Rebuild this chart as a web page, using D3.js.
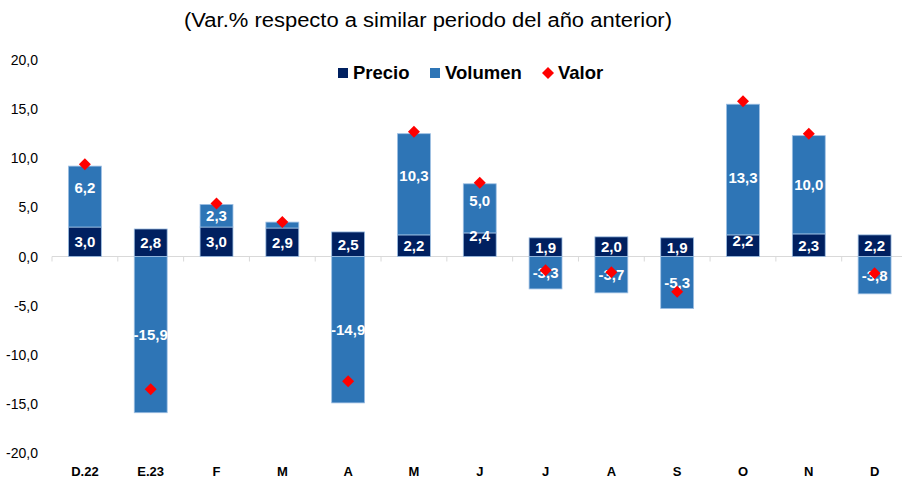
<!DOCTYPE html>
<html>
<head>
<meta charset="utf-8">
<script src="https://cdn.jsdelivr.net/npm/d3@7"></script>
<style>
  body { margin: 0; background: #fff; }
  svg { display: block; font-family: "Liberation Sans", Arial, sans-serif; }
</style>
</head>
<body>
<div id="chart"></div>
<script>
// data
var categories = ["D.22", "E.23", "F", "M", "A", "M", "J", "J", "A", "S", "O", "N", "D"];
var precio  = [3.0, 2.8, 3.0, 2.9, 2.5, 2.2, 2.4, 1.9, 2.0, 1.9, 2.2, 2.3, 2.2];
var volumen = [6.2, -15.9, 2.3, 0.6, -14.9, 10.3, 5.0, -3.3, -3.7, -5.3, 13.3, 10.0, -3.8];
var valor   = [9.4, -13.5, 5.4, 3.5, -12.7, 12.7, 7.5, -1.4, -1.6, -3.6, 15.8, 12.5, -1.7];
var yTicks  = [-20, -15, -10, -5, 0, 5, 10, 15, 20];

var W = 902, H = 479;
var colPrecio = "#002060", colVol = "#2e75b6", colValor = "#ff0000";

// hand-moved data labels in the original (pixel nudges, by category index)
var nudgeVol = { 0: -9, 5: -9, 6: -8, 10: 8 };
var nudgePre = { 6: -9, 10: -5 };

var svg = d3.select("#chart").append("svg")
    .attr("width", W).attr("height", H);

var x = d3.scaleBand()
    .domain(d3.range(categories.length))
    .range([52, 907.5])
    .paddingInner(0.5)
    .paddingOuter(0.25);

var y = d3.scaleLinear().domain([-20, 20]).range([453, 60]);

var fmt = function(v) { return v.toFixed(1).replace(".", ","); };

// subtitle
svg.append("text")
    .attr("x", 428).attr("y", 27)
    .attr("text-anchor", "middle")
    .attr("font-size", 20)
    .attr("textLength", 488)
    .attr("lengthAdjust", "spacingAndGlyphs")
    .attr("fill", "#000")
    .text("(Var.% respecto a similar periodo del año anterior)");

// y axis labels
svg.append("g").selectAll("text")
    .data(yTicks)
    .join("text")
    .attr("x", 38)
    .attr("y", function(d) { return y(d) + 5; })
    .attr("text-anchor", "end")
    .attr("font-size", 14)
    .attr("fill", "#000")
    .text(fmt);

// zero line + tick marks at category boundaries
var step = x.step();
var x0 = x.range()[0];
svg.append("line")
    .attr("x1", x0).attr("x2", W)
    .attr("y1", y(0)).attr("y2", y(0))
    .attr("stroke", "#d9d9d9").attr("stroke-width", 1);
svg.append("g").selectAll("line")
    .data(d3.range(categories.length + 1))
    .join("line")
    .attr("x1", function(i) { return x0 + i * step; })
    .attr("x2", function(i) { return x0 + i * step; })
    .attr("y1", y(0)).attr("y2", y(0) + 5)
    .attr("stroke", "#d9d9d9");

// stacked segments: positives stack up from 0, negatives down from 0
var segs = [];
categories.forEach(function(c, i) {
    var pos = 0, neg = 0;
    [["p", precio[i]], ["v", volumen[i]]].forEach(function(s) {
        var v = s[1], lo, hi;
        if (v >= 0) { lo = pos; hi = pos + v; pos = hi; }
        else { hi = neg; lo = neg + v; neg = lo; }
        segs.push({ i: i, key: s[0], v: v, lo: lo, hi: hi });
    });
});

svg.append("g").selectAll("rect")
    .data(segs)
    .join("rect")
    .attr("x", function(d) { return x(d.i); })
    .attr("width", x.bandwidth())
    .attr("y", function(d) { return y(d.hi); })
    .attr("height", function(d) { return y(d.lo) - y(d.hi); })
    .attr("fill", function(d) { return d.key === "p" ? colPrecio : colVol; })
    .attr("stroke", "#9dbfe3")
    .attr("stroke-width", 0.8);

// segment labels (small volume segment has no label)
svg.append("g").selectAll("text")
    .data(segs.filter(function(d) { return Math.abs(d.v) >= 1; }))
    .join("text")
    .attr("x", function(d) { return x(d.i) + x.bandwidth() / 2; })
    .attr("y", function(d) {
        var n = (d.key === "p" ? nudgePre : nudgeVol)[d.i] || 0;
        return (y(d.lo) + y(d.hi)) / 2 + 5.5 + n;
    })
    .attr("text-anchor", "middle")
    .attr("font-size", 15)
    .attr("font-weight", "bold")
    .attr("fill", "#fff")
    .text(function(d) { return fmt(d.v); });

// valor diamonds
var diamond = d3.symbol().type(d3.symbolSquare).size(72);
svg.append("g").selectAll("path")
    .data(valor)
    .join("path")
    .attr("d", diamond)
    .attr("transform", function(d, i) {
        return "translate(" + (x(i) + x.bandwidth() / 2) + "," + y(d) + ") rotate(45)";
    })
    .attr("fill", colValor);

// x labels
svg.append("g").selectAll("text")
    .data(categories)
    .join("text")
    .attr("x", function(d, i) { return x(i) + x.bandwidth() / 2; })
    .attr("y", 476)
    .attr("text-anchor", "middle")
    .attr("font-size", 13)
    .attr("font-weight", "bold")
    .attr("fill", "#000")
    .text(function(d) { return d; });

// legend
var lg = svg.append("g").attr("font-size", 18.5).attr("font-weight", "bold");
lg.append("rect").attr("x", 338).attr("y", 68).attr("width", 10).attr("height", 10).attr("fill", colPrecio);
lg.append("text").attr("x", 353).attr("y", 79).text("Precio");
lg.append("rect").attr("x", 430).attr("y", 68).attr("width", 10).attr("height", 10).attr("fill", colVol);
lg.append("text").attr("x", 445).attr("y", 79).text("Volumen");
lg.append("path").attr("d", diamond)
    .attr("transform", "translate(548,73) rotate(45)")
    .attr("fill", colValor);
lg.append("text").attr("x", 558).attr("y", 79).text("Valor");
</script>
</body>
</html>
